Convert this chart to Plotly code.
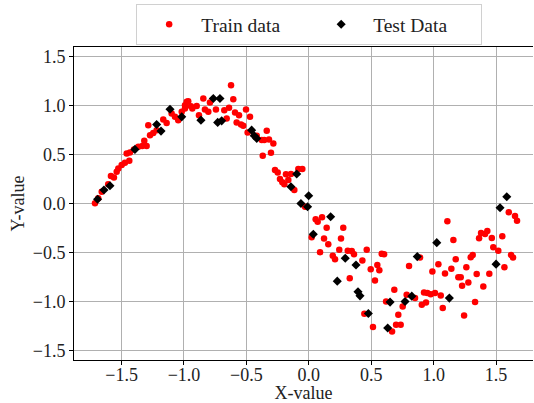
import plotly.graph_objects as go

# Training samples
train_x = [-1.713, -1.687, -1.659, -1.607, -1.585, -1.561, -1.539, -1.526, -1.499, -1.473,
           -1.438, -1.459, -1.433, -1.401, -1.366, -1.334, -1.318, -1.299, -1.272, -1.246,
           -1.286, -1.219, -1.166, -1.139, -1.099, -1.072, -1.046, -1.018, -0.992, -0.978,
           -0.944, -0.933, -0.966, -0.992, -0.898, -0.880, -0.845, -0.832, -0.805, -0.792,
           -0.744, -0.677, -0.658, -0.639, -0.623, -0.605, -0.591, -0.578, -0.559, -0.543,
           -0.525, -0.503, -0.471, -0.490, -0.417, -0.377, -0.357, -0.337, -0.319, -0.284,
           -0.369, -0.303, -0.271, -0.249, -0.231, -0.212, -0.196, -0.183, -0.143, -0.116,
           -0.084, -0.052, -0.164, -0.030, 0.055, 0.071, 0.106, 0.143, 0.276, 0.023,
           0.122, 0.258, 0.156, 0.090, 0.192, 0.210, 0.244, 0.312, 0.344, 0.362,
           0.429, 0.464, 0.584, 0.603, 0.549, 0.496, 0.565, 0.530, 0.328, 0.685,
           0.784, 0.803, 0.891, 0.851, 0.923, 0.950, 0.977, 1.011, 1.057, 0.905,
           0.939, 0.752, 0.717, 0.699, 0.736, 0.667, 0.619, 0.445, 0.514, 1.073,
           0.990, 1.038, 1.091, 1.142, 1.177, 1.110, 1.158, 1.198, 1.217, 1.228,
           1.262, 1.278, 1.297, 1.313, 1.345, 1.332, 1.244, 1.398, 1.446, 1.364,
           1.380, 1.412, 1.430, 1.466, 1.478, 1.518, 1.550, 1.567, 1.620, 1.636,
           1.602, 1.652, 1.668]
train_y = [0.002, 0.053, 0.120, 0.196, 0.281, 0.267, 0.324, 0.359, 0.393, 0.416,
           0.437, 0.512, 0.522, 0.553, 0.580, 0.587, 0.641, 0.587, 0.699, 0.722,
           0.801, 0.750, 0.859, 0.824, 0.920, 0.886, 0.852, 0.937, 1.005, 1.039,
           0.995, 0.971, 1.046, 0.971, 0.998, 0.903, 1.073, 0.961, 0.937, 1.033,
           0.961, 0.954, 0.869, 0.978, 1.209, 1.066, 0.931, 0.829, 0.903, 0.808,
           0.794, 0.961, 0.886, 0.727, 0.692, 0.648, 0.648, 0.743, 0.655, 0.614,
           0.488, 0.518, 0.342, 0.318, 0.250, 0.216, 0.196, 0.298, 0.301, 0.138,
           0.352, 0.352, 0.240, -0.033, -0.161, -0.186, -0.141, -0.247, -0.247, -0.345,
           -0.359, -0.359, -0.416, -0.498, -0.533, -0.569, -0.474, -0.482, -0.485, -0.518,
           -0.584, -0.474, -0.515, -0.518, -0.628, -0.671, -0.682, -0.788, -0.763, -0.883,
           -0.934, -0.638, -0.553, -0.967, -0.910, -0.916, -0.927, -0.916, -0.941, -1.036,
           -1.012, -1.053, -1.138, -1.240, -1.240, -1.308, -1.002, -1.128, -1.263, -1.069,
           -0.696, -0.620, -0.716, -0.668, -0.569, -0.182, -0.372, -0.753, -0.753, -0.842,
           -0.651, -0.808, -0.549, -0.526, -0.722, -1.008, -1.145, -0.849, -0.719, -0.355,
           -0.301, -0.311, -0.281, -0.352, -0.447, -0.482, -0.335, -0.651, -0.526, -0.553,
           -0.090, -0.128, -0.176]

# Held-out samples
test_x = [-1.692, -1.641, -1.593, -1.393, -1.219, -1.184, -1.112, -1.018, -0.765, -0.712,
          -0.864, -0.730, -0.698, -0.458, -0.437, -0.417, -0.097, -0.143, -0.063, -0.001,
          -0.010, 0.175, 0.036, 0.292, 0.378, 0.228, 0.394, 0.410, 0.477, 0.632,
          0.651, 0.771, 0.825, 0.869, 1.025, 1.126, 1.500, 1.532, 1.586]
test_y = [0.043, 0.138, 0.182, 0.553, 0.808, 0.740, 0.964, 0.886, 1.073, 1.073,
          0.852, 0.829, 0.845, 0.750, 0.692, 0.665, 0.301, 0.171, 0.000, 0.080,
          -0.033, -0.135, -0.314, -0.559, -0.628, -0.794, -0.903, -0.944, -1.124, -1.273,
          -1.008, -1.002, -0.947, -0.543, -0.400, -0.967, -0.620, -0.043, 0.069]

x_ticks = [-1.5, -1.0, -0.5, 0.0, 0.5, 1.0, 1.5]
y_ticks = [-1.5, -1.0, -0.5, 0.0, 0.5, 1.0, 1.5]

FONT = "Liberation Serif"
TXT = "#222222"

fig = go.Figure()
fig.add_trace(go.Scatter(
    x=train_x, y=train_y, mode="markers", name="Train data",
    marker=dict(symbol="circle", size=6.5, color="#ff0000", line=dict(width=0)),
))
fig.add_trace(go.Scatter(
    x=test_x, y=test_y, mode="markers", name="Test Data",
    marker=dict(symbol="diamond", size=7, color="#000000", line=dict(width=0)),
))

axis_common = dict(
    showgrid=True, gridcolor="#b0b0b0", gridwidth=1,
    zeroline=False, showline=True, linecolor="#000000", linewidth=1,
    ticks="outside", ticklen=4, tickwidth=1, tickcolor="#000000",
    tickfont=dict(family=FONT, size=18, color=TXT),
    tickformat=".1f",
)

fig.update_layout(
    width=534, height=403,
    margin=dict(l=74, r=1, t=47, b=43, autoexpand=False),
    paper_bgcolor="white", plot_bgcolor="white",
    font=dict(family=FONT, size=18, color=TXT),
    showlegend=True,
    legend=dict(
        orientation="h",
        xref="container", x=0.255, xanchor="left",
        yref="container", y=0.99, yanchor="top",
        bordercolor="#d0d0d0", borderwidth=1,
        bgcolor="white",
        font=dict(family=FONT, size=19.5, color=TXT),
        entrywidth=103, entrywidthmode="pixels",
        itemwidth=54,
    ),
    xaxis=dict(
        axis_common, range=[-1.881, 1.796], tickvals=x_ticks, mirror=True,
        ticklabelstandoff=-6,
        title=dict(text="X-value", standoff=0, font=dict(family=FONT, size=18, color=TXT)),
    ),
    yaxis=dict(
        axis_common, range=[-1.6, 1.6], tickvals=y_ticks, mirror=False,
        title=dict(text="Y-value", standoff=3, font=dict(family=FONT, size=18, color=TXT)),
    ),
)

fig.write_html("out.html")
